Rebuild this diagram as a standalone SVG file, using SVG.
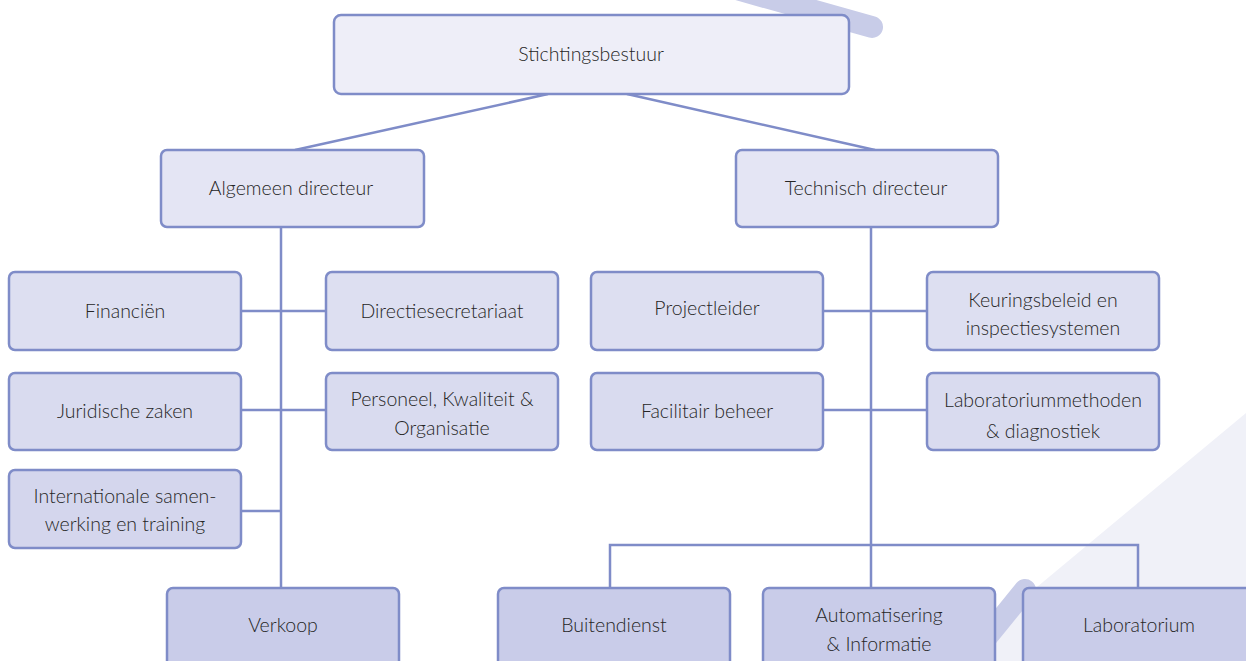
<svg xmlns="http://www.w3.org/2000/svg" width="1246" height="661" viewBox="0 0 1246 661">
<style>
.n{stroke:#7f8cc8;stroke-width:2.5}
.c{stroke:#7f8cc8;stroke-width:2.5;fill:none}
text{font-family:Lato,"Open Sans","Liberation Sans",sans-serif;font-weight:300;font-size:19.5px;fill:#262626;text-anchor:middle}
</style>
<rect width="1246" height="661" fill="#ffffff"/>
<g id="decor">
<polygon points="1246,413 948,661 1246,661" fill="#f0f1f8"/>
<line x1="872" y1="27" x2="740" y2="-10" stroke="#c8cce8" stroke-width="22" stroke-linecap="round"/>
<line x1="1025" y1="590" x2="960" y2="670" stroke="#c8cce8" stroke-width="22" stroke-linecap="round"/>
</g>
<g id="connectors">
<line class="c" x1="548" y1="94" x2="295" y2="150"/>
<line class="c" x1="627" y1="94" x2="875" y2="150"/>
<line class="c" x1="281" y1="227" x2="281" y2="588"/>
<line class="c" x1="241" y1="311" x2="326" y2="311"/>
<line class="c" x1="241" y1="410" x2="326" y2="410"/>
<line class="c" x1="241" y1="511" x2="281" y2="511"/>
<line class="c" x1="871" y1="227" x2="871" y2="588"/>
<line class="c" x1="823" y1="311" x2="927" y2="311"/>
<line class="c" x1="823" y1="410" x2="927" y2="410"/>
<polyline class="c" points="610,588 610,545 1138,545 1138,588"/>
</g>
<g id="stichtingsbestuur"><rect class="n" x="334" y="15" width="515" height="79" rx="7" fill="#eeeef8"/><text x="591" y="61">Stichtingsbestuur</text></g>
<g id="algemeen-directeur"><rect class="n" x="161" y="150" width="263" height="77" rx="6" fill="#e4e5f4"/><text x="291" y="195">Algemeen directeur</text></g>
<g id="technisch-directeur"><rect class="n" x="736" y="150" width="262" height="77" rx="6" fill="#e4e5f4"/><text x="866" y="195">Technisch directeur</text></g>
<g id="financien"><rect class="n" x="9" y="272" width="232" height="78" rx="6" fill="#dddff1"/><text x="125" y="318">Financiën</text></g>
<g id="directiesecretariaat"><rect class="n" x="326" y="272" width="232" height="78" rx="6" fill="#dddff1"/><text x="442" y="318">Directiesecretariaat</text></g>
<g id="juridische-zaken"><rect class="n" x="9" y="373" width="232" height="77" rx="6" fill="#d9dbef"/><text x="125" y="418">Juridische zaken</text></g>
<g id="personeel"><rect class="n" x="326" y="373" width="232" height="77" rx="6" fill="#d9dbef"/><text x="442" y="406">Personeel, Kwaliteit &amp;</text><text x="442" y="435">Organisatie</text></g>
<g id="internationale"><rect class="n" x="9" y="470" width="232" height="78" rx="6" fill="#d4d6ed"/><text x="125" y="503">Internationale samen-</text><text x="125" y="531">werking en training</text></g>
<g id="verkoop"><rect class="n" x="167" y="588" width="232" height="80" rx="6" fill="#c9cce9"/><text x="283" y="632">Verkoop</text></g>
<g id="projectleider"><rect class="n" x="591" y="272" width="232" height="78" rx="6" fill="#dddff1"/><text x="707" y="315">Projectleider</text></g>
<g id="keuringsbeleid"><rect class="n" x="927" y="272" width="232" height="78" rx="6" fill="#dddff1"/><text x="1043" y="307">Keuringsbeleid en</text><text x="1043" y="335">inspectiesystemen</text></g>
<g id="facilitair-beheer"><rect class="n" x="591" y="373" width="232" height="77" rx="6" fill="#d9dbef"/><text x="707" y="418">Facilitair beheer</text></g>
<g id="laboratoriummethoden"><rect class="n" x="927" y="373" width="232" height="77" rx="6" fill="#d9dbef"/><text x="1043" y="407">Laboratoriummethoden</text><text x="1043" y="438">&amp; diagnostiek</text></g>
<g id="buitendienst"><rect class="n" x="498" y="588" width="232" height="80" rx="6" fill="#c9cce9"/><text x="614" y="632">Buitendienst</text></g>
<g id="automatisering"><rect class="n" x="763" y="588" width="232" height="80" rx="6" fill="#c9cce9"/><text x="879" y="622">Automatisering</text><text x="879" y="651">&amp; Informatie</text></g>
<g id="laboratorium"><rect class="n" x="1023" y="588" width="240" height="80" rx="6" fill="#c9cce9"/><text x="1139" y="632">Laboratorium</text></g>
</svg>
